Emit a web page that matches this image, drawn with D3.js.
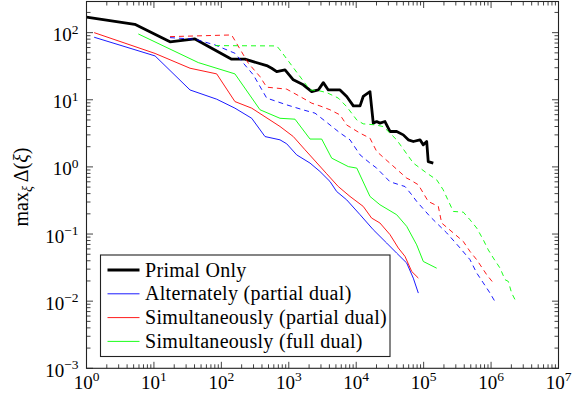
<!DOCTYPE html>
<html>
<head>
<meta charset="utf-8">
<script src="https://cdn.jsdelivr.net/npm/d3@7"></script>
<style>
  body { margin: 0; background: #fff; }
  text { font-family: "Liberation Serif", "DejaVu Serif", serif; fill: #000; }
</style>
</head>
<body>
<svg id="chart" width="576" height="398"></svg>
<script>
// Primal Only (thick black)
const primalX = [1, 5.2, 17.3, 40.6, 142, 224, 470, 558, 662, 879, 1167, 1641, 2188, 2740, 3251, 3856, 5750, 7230, 9060, 11400, 12700, 16000, 17900, 20100, 22500, 26700, 31700, 39800, 49900, 59200, 70300, 88300, 98900, 111000, 117000, 139000];
const primalY = [170, 133, 73, 80.6, 40.2, 40.2, 32.3, 29.5, 26.3, 27.9, 19.8, 16.7, 13.2, 14.0, 18.0, 14.0, 14.0, 11.2, 8.1, 8.1, 11.2, 13.2, 4.49, 4.74, 4.49, 4.74, 3.37, 3.37, 3.0, 2.53, 2.39, 2.53, 2.13, 2.39, 1.2, 1.14];

// Alternately (partial dual), solid and dashed
const altX = [1.3, 10.4, 34.3, 85.3, 159, 282, 444, 741, 931, 1310, 2065, 2900, 4080, 5130, 7220, 11400, 17900, 28300, 39800, 56100, 70300, 83400];
const altY = [85.4, 45, 14.0, 10.2, 7.5, 5.3, 2.83, 2.53, 2.21, 1.51, 1.14, 0.855, 0.607, 0.43, 0.323, 0.194, 0.116, 0.0734, 0.052, 0.037, 0.022, 0.0132];
const altDashX = [17.3, 40.6, 80.5, 159, 298, 470, 931, 1641, 2450, 3650, 5750, 8090, 11400, 16000, 20100, 31700, 52900, 66500, 78900, 124000, 175000, 220000, 347000, 487000, 612000, 767000, 964000, 1140000];
const altDashY = [84.3, 79.8, 65.6, 49.3, 23.5, 10.6, 8.4, 7.06, 6.32, 4.61, 3.21, 2.53, 1.51, 1.14, 0.96, 0.6, 0.51, 0.385, 0.306, 0.183, 0.13, 0.104, 0.062, 0.0415, 0.0263, 0.0187, 0.0132, 0.0099];

// Simultaneously (partial dual), solid and dashed
const simPX = [1.3, 10.4, 34.3, 85.3, 159, 282, 741, 1167, 1740, 3650, 5420, 8090, 12700, 16900, 22500, 31700, 42100, 52900, 66500, 83400];
const simPY = [100, 49, 29.5, 24.3, 9.4, 7.5, 4.0, 2.83, 1.8, 0.79, 0.51, 0.363, 0.258, 0.173, 0.146, 0.098, 0.062, 0.0465, 0.0277, 0.0221];
const simPDashX = [17.3, 142, 251, 374, 470, 931, 1466, 2188, 2900, 4080, 5750, 7220, 11400, 16000, 20100, 56100, 62800, 83400, 117000, 165000, 185000, 275000, 387000, 487000, 612000, 861000, 1080000];
const simPDashY = [87.2, 92.4, 35.1, 22.1, 15.4, 14.4, 11.2, 8.9, 8.1, 7.1, 5.96, 4.21, 3.18, 2.68, 1.7, 0.68, 0.643, 0.542, 0.306, 0.258, 0.146, 0.104, 0.0776, 0.055, 0.0415, 0.0248, 0.0187];

// Simultaneously (full dual), solid and dashed
const simFX = [5.87, 45.5, 159, 374, 741, 1236, 2065, 3077, 4330, 7640, 10200, 16000, 22500, 39800, 56100, 78900, 98900, 156000];
const simFY = [95.6, 35.8, 24.3, 7.1, 5.3, 5.14, 2.6, 2.6, 1.35, 1.01, 0.96, 0.363, 0.273, 0.194, 0.13, 0.069, 0.039, 0.031];
const simFDashX = [80.5, 662, 741, 2065, 2740, 3650, 5420, 7220, 10200, 12700, 19000, 25200, 31700, 39800, 70300, 111000, 156000, 195000, 275000, 387000, 487000, 612000, 767000, 910000, 1080000, 1360000, 1610000, 1800000, 2020000, 2260000];
const simFDashY = [64.1, 63.4, 55.3, 14.0, 13.7, 12.8, 10.6, 7.9, 5.0, 4.38, 4.23, 3.99, 3.18, 2.53, 1.14, 0.81, 0.643, 0.456, 0.217, 0.212, 0.163, 0.123, 0.082, 0.058, 0.044, 0.031, 0.0209, 0.0197, 0.0132, 0.0106];

const xExponents = [0, 1, 2, 3, 4, 5, 6, 7];
const yExponents = [-3, -2, -1, 0, 1, 2];
const legendLabels = ['Primal Only', 'Alternately (partial dual)', 'Simultaneously (partial dual)', 'Simultaneously (full dual)'];

const margin = { top: 1.5, right: 17.5, bottom: 29.7, left: 86.5 };
const width = 576 - margin.left - margin.right;
const height = 398 - margin.top - margin.bottom;

const svg = d3.select('#chart');
const g = svg.append('g')
  .attr('transform', 'translate(' + margin.left + ',' + margin.top + ')');

const x = d3.scaleLog().domain([1, 1e7]).range([0, width]);
const y = d3.scaleLog().domain([1e-3, 291]).range([height, 0]);

g.append('defs').append('clipPath')
  .attr('id', 'plot-area')
  .append('rect')
  .attr('width', width)
  .attr('height', height);

// minor + major ticks on all four sides (pointing inward)
const xMinor = [];
xExponents.slice(0, -1).forEach(e => { for (let k = 2; k <= 9; k++) xMinor.push(k * Math.pow(10, e)); });
const yMinor = [];
yExponents.forEach(e => { for (let k = 2; k <= 9; k++) { const v = k * Math.pow(10, e); if (v < 291) yMinor.push(v); } });
const xMajor = xExponents.map(e => Math.pow(10, e));
const yMajor = yExponents.map(e => Math.pow(10, e));

const tickColor = '#444';
function drawTicks(vals, len, horiz) {
  vals.forEach(v => {
    if (horiz) {
      const px = x(v);
      g.append('line').attr('x1', px).attr('x2', px).attr('y1', height).attr('y2', height - len).attr('stroke', tickColor);
      g.append('line').attr('x1', px).attr('x2', px).attr('y1', 0).attr('y2', len).attr('stroke', tickColor);
    } else {
      const py = y(v);
      g.append('line').attr('x1', 0).attr('x2', len).attr('y1', py).attr('y2', py).attr('stroke', tickColor);
      g.append('line').attr('x1', width).attr('x2', width - len).attr('y1', py).attr('y2', py).attr('stroke', tickColor);
    }
  });
}
drawTicks(xMinor, 4, true);
drawTicks(xMajor, 6.5, true);
drawTicks(yMinor, 4, false);
drawTicks(yMajor, 6.5, false);

// tick labels
const xLab = g.selectAll('.x-label')
  .data(xExponents)
  .enter()
  .append('text')
  .attr('class', 'x-label')
  .attr('x', d => x(Math.pow(10, d)))
  .attr('y', height + 20.5)
  .attr('text-anchor', 'middle')
  .style('font-size', '19px');
xLab.append('tspan').text('10');
xLab.append('tspan').attr('dy', -7.5).style('font-size', '13.5px').text(d => String(d).replace('-', '\u2212'));

const yLab = g.selectAll('.y-label')
  .data(yExponents)
  .enter()
  .append('text')
  .attr('class', 'y-label')
  .attr('x', -8)
  .attr('y', d => y(Math.pow(10, d)) + 8.5)
  .attr('text-anchor', 'end')
  .style('font-size', '19px');
yLab.append('tspan').text('10');
yLab.append('tspan').attr('dy', -7.5).style('font-size', '13.5px').text(d => String(d).replace('-', '\u2212'));

// axis title
const title = svg.append('text')
  .attr('transform', 'translate(28,187) rotate(-90)')
  .attr('text-anchor', 'middle')
  .style('font-size', '20px');
title.append('tspan').text('max');
title.append('tspan').attr('dy', 4).style('font-size', '14px').style('font-style', 'italic').text('\u03BE');
title.append('tspan').attr('dy', -4).text(' \u0394(');
title.append('tspan').style('font-style', 'italic').text('\u03BE');
title.append('tspan').text(')');

const line = d3.line()
  .x(d => x(d[0]))
  .y(d => y(d[1]));

const plot = g.append('g').attr('clip-path', 'url(#plot-area)');

const series = [
  { xs: primalX, ys: primalY, color: '#000', w: 2.8, dash: null },
  { xs: altX, ys: altY, color: '#0000ff', w: 0.9, dash: null },
  { xs: simPX, ys: simPY, color: '#ff0000', w: 0.9, dash: null },
  { xs: simFX, ys: simFY, color: '#00ff00', w: 0.9, dash: null },
  { xs: altDashX, ys: altDashY, color: '#0000ff', w: 0.9, dash: '5,4' },
  { xs: simPDashX, ys: simPDashY, color: '#ff0000', w: 0.9, dash: '5,4' },
  { xs: simFDashX, ys: simFDashY, color: '#00ff00', w: 0.9, dash: '5,4' }
];

series.forEach(s => {
  plot.append('path')
    .datum(s.xs.map((v, i) => [v, s.ys[i]]))
    .attr('d', line)
    .attr('fill', 'none')
    .attr('stroke', s.color)
    .attr('stroke-width', s.w)
    .attr('stroke-linejoin', 'round')
    .attr('stroke-dasharray', s.dash);
});

// frame
g.append('rect')
  .attr('width', width)
  .attr('height', height)
  .attr('fill', 'none')
  .attr('stroke', '#222')
  .attr('stroke-width', 1.1);

// legend
const legend = svg.append('g').attr('transform', 'translate(100.5,255)');
legend.append('rect')
  .attr('width', 289.5)
  .attr('height', 101.5)
  .attr('fill', '#fff')
  .attr('stroke', '#222')
  .attr('stroke-width', 1.1);

const legendRows = legend.selectAll('.legend-row')
  .data(series.slice(0, 4))
  .enter()
  .append('g')
  .attr('class', 'legend-row')
  .attr('transform', (d, i) => 'translate(0,' + (15 + 23.8 * i) + ')');

legendRows.append('line')
  .attr('x1', 7)
  .attr('x2', 39)
  .attr('stroke', d => d.color)
  .attr('stroke-width', d => d.w);

legendRows.append('text')
  .attr('x', 44.5)
  .attr('y', 6.5)
  .style('font-size', '20px')
  .style('letter-spacing', '0.3px')
  .text((d, i) => legendLabels[i]);
</script>
</body>
</html>
